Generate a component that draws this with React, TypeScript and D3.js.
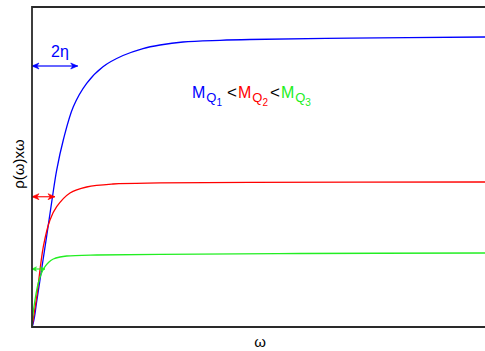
import React from "react";
import * as d3 from "d3";

const W = 485;
const H = 351;

// ω (0..10 across the frame) and ρ(ω)×ω (0..10 up the frame)
const blueW = [0, 0.022, 0.055, 0.099, 0.21, 0.322, 0.448, 0.545, 0.691, 0.912, 1.207, 1.567, 2.009, 2.45, 2.826, 3.333, 4.15, 4.812, 7.02, 10.0];
const blueV = [0, 0.094, 0.3125, 0.75, 1.781, 2.822, 4.031, 4.906, 5.844, 6.884, 7.616, 8.134, 8.484, 8.703, 8.8125, 8.906, 8.959, 8.984, 9.025, 9.0625];

const redW = [0, 0.015, 0.104, 0.25, 0.397, 0.545, 0.839, 1.207, 1.788, 2.826, 4.812, 10];
const redV = [0, 0.125, 0.947, 2.509, 3.344, 3.759, 4.1875, 4.375, 4.469, 4.503, 4.519, 4.531];

const greenW = [0, 0.015, 0.066, 0.139, 0.221, 0.287, 0.375, 0.47, 0.618, 0.766, 1.428, 2.826, 5.916, 10];
const greenV = [0, 0.3125, 0.844, 1.375, 1.719, 1.884, 2.031, 2.125, 2.1875, 2.219, 2.25, 2.272, 2.297, 2.3125];

// width arrows: level and length (2η)
const arrowLevel = [8.156, 4.072, 1.8125];
const arrowLen = [1.009, 0.508, 0.287];
const colors = ["#0000ff", "#ff0000", "#22ee22"];

export default function App() {
  const x = d3.scaleLinear().domain([0, 10]).range([32, 485]);
  const y = d3.scaleLinear().domain([0, 10]).range([327, 7]);
  const line = d3
    .line<[number, number]>()
    .x((d) => x(d[0]))
    .y((d) => y(d[1]))
    .curve(d3.curveCatmullRom.alpha(0.5));

  const series = [
    { w: blueW, v: blueV, c: colors[0] },
    { w: redW, v: redV, c: colors[1] },
    { w: greenW, v: greenV, c: colors[2] },
  ];

  const head = (px: number, py: number, dir: number, c: string, key: string, L: number, hw: number) => {
    const d = `M${px},${py} L${px - dir * L},${py - hw} L${px - dir * (L * 0.7)},${py} L${px - dir * L},${py + hw} Z`;
    return <path key={key} d={d} fill={c} stroke={c} strokeWidth={0.6} />;
  };

  const font = "Liberation Sans, Arial, sans-serif";

  return (
    <svg width={W} height={H} style={{ position: "absolute", left: 0, top: 0, background: "#fff" }}>
      <rect x={0} y={0} width={W} height={H} fill="#fff" />
      {series.map((s, i) => (
        <path
          key={i}
          d={line(s.w.map((w, j) => [w, s.v[j]] as [number, number])) || ""}
          fill="none"
          stroke={s.c}
          strokeWidth={1.3}
        />
      ))}
      {arrowLevel.map((lv, i) => {
        const x0 = x(0);
        const x1 = x(arrowLen[i]);
        const py = y(lv);
        const c = colors[i];
        const L = i === 2 ? 4.5 : 7;
        const hw = i === 2 ? 2.2 : 3;
        return (
          <g key={"a" + i}>
            <line x1={x0} x2={x1} y1={py} y2={py} stroke={c} strokeWidth={1.4} strokeOpacity={0.8} />
            {head(x0, py, -1, c, "l", L, hw)}
            {head(x1, py, 1, c, "r", L, hw)}
          </g>
        );
      })}
      {/* frame */}
      <path d={`M${W},${y(10)} L${x(0)},${y(10)} L${x(0)},${y(0)} L${W},${y(0)}`} fill="none" stroke="#2a2a2a" strokeWidth={1.8} />
      <text x={60} y={57} textAnchor="middle" fontFamily={font} fontSize={16} fill="#0000ff">
        2η
      </text>
      <text x={192} y={98} fontFamily={font} fontSize={16}>
        <tspan fill="#0000ff">M</tspan>
        <tspan fill="#0000ff" fontSize={13} dy={4} dx={1}>Q</tspan>
        <tspan fill="#0000ff" fontSize={10} dy={4}>1</tspan>
        <tspan fill="#000" fontSize={17} dy={-8} dx={5}>{"<"}</tspan>
        <tspan fill="#ff0000" dx={1}>M</tspan>
        <tspan fill="#ff0000" fontSize={13} dy={4} dx={1}>Q</tspan>
        <tspan fill="#ff0000" fontSize={10} dy={4}>2</tspan>
        <tspan fill="#000" fontSize={17} dy={-8} dx={2}>{"<"}</tspan>
        <tspan fill="#22ee22" dx={1}>M</tspan>
        <tspan fill="#22ee22" fontSize={13} dy={4} dx={1}>Q</tspan>
        <tspan fill="#22ee22" fontSize={10} dy={4}>3</tspan>
      </text>
      <text
        transform={`translate(24,164) rotate(-90)`}
        textAnchor="middle"
        fontFamily={font}
        fontSize={15}
        fill="#000"
      >
        ρ(ω)xω
      </text>
      <text x={260} y={347} textAnchor="middle" fontFamily={font} fontSize={15} fill="#000">
        ω
      </text>
    </svg>
  );
}
